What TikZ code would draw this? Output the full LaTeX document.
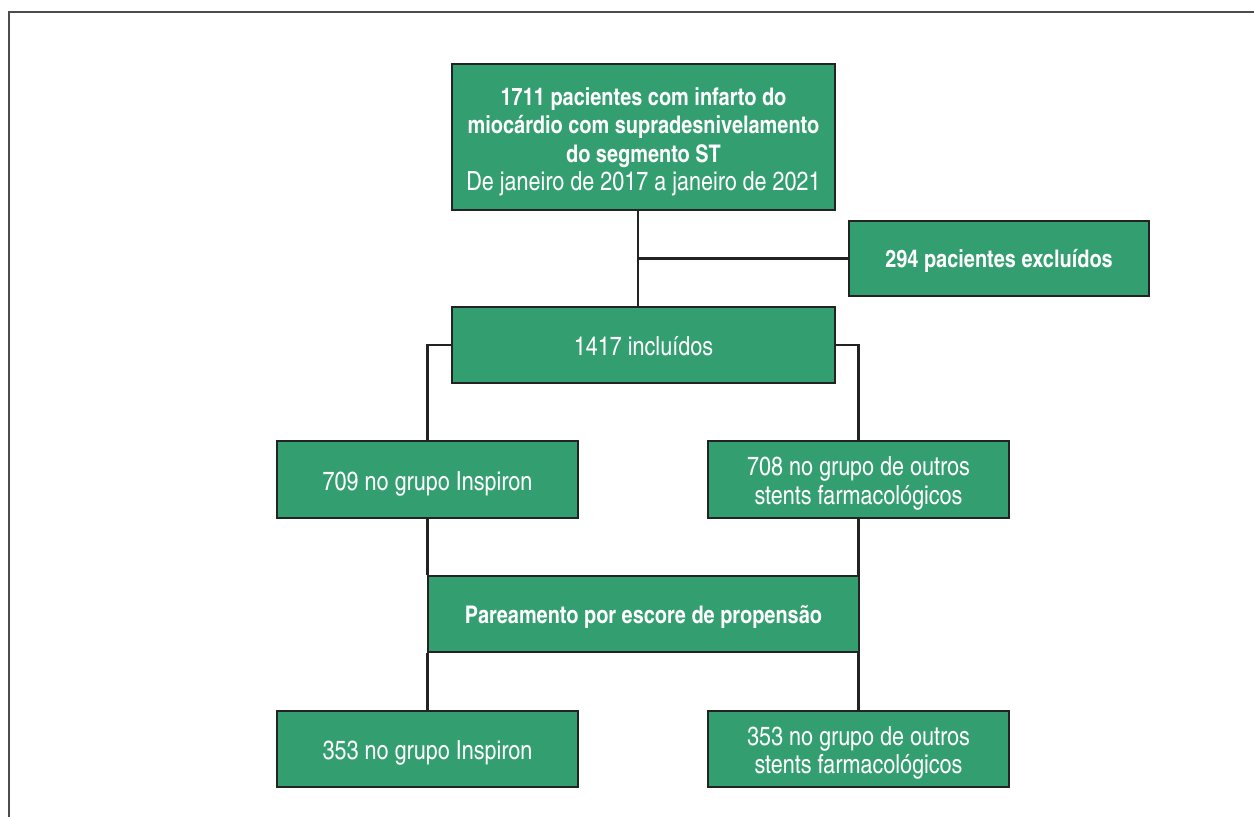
\documentclass[tikz,border=0pt]{standalone}
\usepackage{fontspec}
\setmainfont{TeX Gyre Heros Cn}
\definecolor{boxgreen}{RGB}{51,158,112}
\definecolor{edge}{RGB}{35,35,35}
\newcommand{\bt}[1]{{\fontsize{24.3}{28.5}\selectfont\bfseries #1}}
\newcommand{\rt}[1]{{\fontsize{26.3}{28.5}\selectfont #1}}
\begin{document}
\begin{tikzpicture}[x=1pt,y=-1pt,
  box/.style={draw=edge,line width=2.8pt,fill=boxgreen,text=white,inner sep=0pt,
    align=center,font=\fontsize{25}{28.5}\selectfont,anchor=center,
    text height=23pt,text depth=1.5pt},
  twoline/.style={text height=51pt},
  fourline/.style={text height=109pt},
  boldone/.style={text height=20pt},
  link/.style={draw=edge,line width=2.5pt},
  frameline/.style={draw=black!70,line width=1.4pt}]
\useasboundingbox (0,0) rectangle (1254,817);
\draw[frameline] (9,817) -- (9,12) -- (1254,12);

\node[box,fourline,minimum width=383pt,minimum height=146pt] (top) at (643.5,137)
  {\bt{1711 pacientes com infarto do}\\\bt{miocárdio com supradesnivelamento}\\\bt{do segmento ST}\\\rt{De janeiro de 2017 a janeiro de 2021}};
\node[box,boldone,minimum width=300pt,minimum height=75pt] (exc) at (999,258.5) {\bt{294 pacientes excluídos}};
\node[box,minimum width=383pt,minimum height=76pt] (inc) at (643.5,345) {\rt{1417 incluídos}};
\node[box,minimum width=301pt,minimum height=77pt] (l1) at (427.5,479.5) {\rt{709 no grupo Inspiron}};
\node[box,twoline,minimum width=301pt,minimum height=77pt] (r1) at (858.5,479.5) {\rt{708 no grupo de outros}\\\rt{stents farmacológicos}};
\node[box,boldone,minimum width=431pt,minimum height=76pt] (ps) at (643.5,614) {\bt{Pareamento por escore de propensão}};
\node[box,minimum width=301pt,minimum height=76pt] (l2) at (427.5,749) {\rt{353 no grupo Inspiron}};
\node[box,twoline,minimum width=301pt,minimum height=76pt] (r2) at (858.5,749) {\rt{353 no grupo de outros}\\\rt{stents farmacológicos}};

\coordinate (j) at (638,258.5);
\draw[link] ([xshift=-5.5pt]top.south) -- ([xshift=-5.5pt]inc.north);
\draw[link] (j) -- (exc.west);
\draw[link] (inc.west) -| (l1.north);
\draw[link] (inc.east) -| (r1.north);
\draw[link] (l1.south) -- (l1.south |- ps.north);
\draw[link] (r1.south) -- (r1.south |- ps.north);
\draw[link] (l2.north |- ps.south) -- (l2.north);
\draw[link] (r2.north |- ps.south) -- (r2.north);
\end{tikzpicture}
\end{document}
